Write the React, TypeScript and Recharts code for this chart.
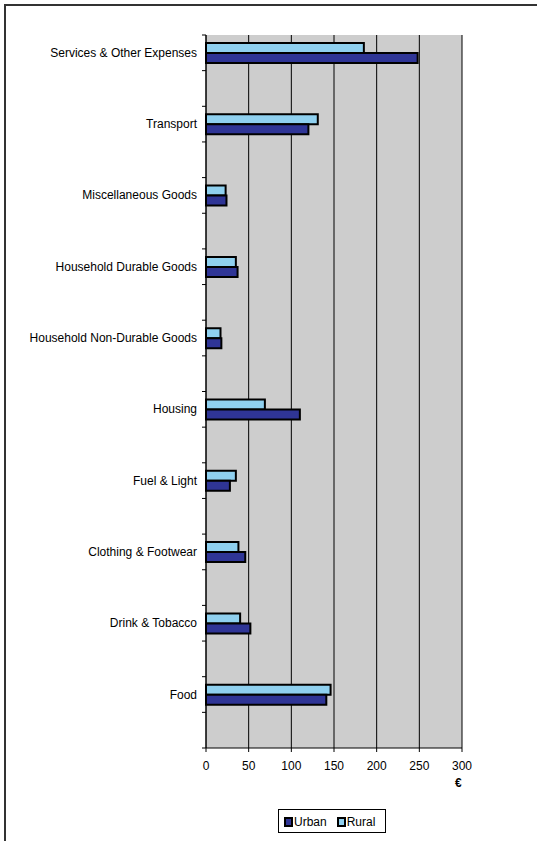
import { Bar, BarChart, CartesianGrid, XAxis, YAxis } from "recharts";

const FONT = "'Liberation Sans', Arial, sans-serif";
const URBAN = "#2f3596";
const RURAL = "#8fd0ef";

const categories = [
  "Services & Other Expenses",
  "Transport",
  "Miscellaneous Goods",
  "Household Durable Goods",
  "Household Non-Durable Goods",
  "Housing",
  "Fuel & Light",
  "Clothing & Footwear",
  "Drink & Tobacco",
  "Food",
];
const urban = [248, 120, 24, 37, 18, 110, 28, 46, 52, 141];
const rural = [185, 131, 23, 35, 17, 69, 35, 38, 40, 146];
const xTicks = [0, 50, 100, 150, 200, 250, 300];

// Excel-style axis: a blank row after every category, labels on every other band
const rows = categories.flatMap((name, i) => [
  { key: `c${i}`, label: name, urban: urban[i], rural: rural[i] },
  { key: `b${i}`, label: "", urban: null, rural: null },
]);

const W = 537;
const H = 841;
const PLOT_LEFT = 206;
const PLOT_TOP = 35;
const PLOT_BOTTOM = 748;
const BAND = (PLOT_BOTTOM - PLOT_TOP) / rows.length;

function CategoryTick(props: any) {
  const { y, payload, index } = props;
  const row = rows.find((r) => r.key === payload.value);
  const top = y - BAND / 2;
  return (
    <g>
      <line x1={PLOT_LEFT - 4} x2={PLOT_LEFT} y1={top} y2={top} stroke="#000" />
      {index === rows.length - 1 && (
        <line x1={PLOT_LEFT - 4} x2={PLOT_LEFT} y1={y + BAND / 2} y2={y + BAND / 2} stroke="#000" />
      )}
      {row && row.label && (
        <text x={PLOT_LEFT - 9} y={y} dy={4} textAnchor="end" fontSize={12} fill="#000" fontFamily={FONT}>
          {row.label}
        </text>
      )}
    </g>
  );
}

function Swatch({ color }: { color: string }) {
  return (
    <span
      style={{
        display: "inline-block",
        width: 5,
        height: 6,
        background: color,
        border: "2px solid #000",
        marginRight: 1,
        verticalAlign: "middle",
      }}
    />
  );
}

export default function App() {
  return (
    <div style={{ position: "absolute", left: 0, top: 0, width: W, height: H, fontFamily: FONT, background: "#fff" }}>
      <div
        style={{
          position: "absolute",
          left: 4,
          top: 4,
          right: 0,
          bottom: 0,
          borderLeft: "2px solid #333",
          borderTop: "2px solid #333",
        }}
      />
      <BarChart
        width={W}
        height={H}
        data={rows}
        layout="vertical"
        margin={{ top: PLOT_TOP, right: W - 462, bottom: H - PLOT_BOTTOM - 30, left: 0 }}
        barGap={0}
        barSize={10}
      >
        <CartesianGrid horizontal={false} vertical fill="#cdcdcd" stroke="#000" fillOpacity={1} />
        <XAxis
          type="number"
          domain={[0, 300]}
          ticks={xTicks}
          interval={0}
          height={30}
          tickSize={4}
          tickMargin={9}
          axisLine={{ stroke: "#000" }}
          tickLine={{ stroke: "#000" }}
          tick={{ fill: "#000", fontSize: 12, fontFamily: FONT }}
        />
        <YAxis
          type="category"
          dataKey="key"
          width={PLOT_LEFT}
          interval={0}
          tickLine={false}
          axisLine={{ stroke: "#000" }}
          tick={<CategoryTick />}
        />
        <Bar dataKey="rural" name="Rural" fill={RURAL} stroke="#000" strokeWidth={2} isAnimationActive={false} />
        <Bar dataKey="urban" name="Urban" fill={URBAN} stroke="#000" strokeWidth={2} isAnimationActive={false} />
      </BarChart>
      <div
        style={{
          position: "absolute",
          left: 455,
          top: 776,
          fontSize: 12,
          fontWeight: "bold",
        }}
      >
        €
      </div>
      <div
        style={{
          position: "absolute",
          left: 278,
          top: 809,
          width: 106,
          height: 22,
          border: "1px solid #000",
          boxSizing: "content-box",
          fontSize: 12,
          lineHeight: "22px",
          whiteSpace: "nowrap",
        }}
      >
        <span style={{ marginLeft: 5 }} />
        <Swatch color={URBAN} />
        <span style={{ verticalAlign: "middle" }}>Urban</span>
        <span style={{ marginLeft: 10 }} />
        <Swatch color={RURAL} />
        <span style={{ verticalAlign: "middle" }}>Rural</span>
      </div>
    </div>
  );
}
